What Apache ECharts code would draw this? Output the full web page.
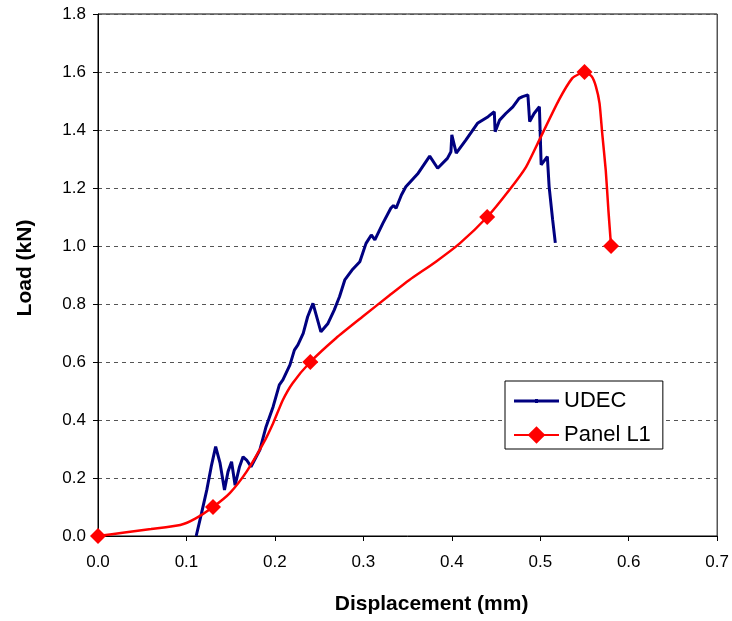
<!DOCTYPE html>
<html>
<head>
<meta charset="utf-8">
<script src="https://cdn.jsdelivr.net/npm/echarts@6/dist/echarts.min.js"></script>
<style>html,body{margin:0;padding:0;background:#fff}#c{width:732px;height:621px}</style>
</head>
<body>
<div id="c"></div>
<script>
// UDEC curve (displacement mm, load kN)
const udecX = [0.111, 0.117, 0.123, 0.128, 0.133, 0.138, 0.143, 0.147, 0.151, 0.155, 0.160, 0.164, 0.168, 0.173, 0.183, 0.190, 0.198, 0.205, 0.209, 0.217, 0.222, 0.226, 0.232, 0.237, 0.243, 0.252, 0.260, 0.267, 0.273, 0.279, 0.288, 0.296, 0.303, 0.309, 0.313, 0.322, 0.331, 0.334, 0.337, 0.343, 0.348, 0.362, 0.375, 0.384, 0.395, 0.399, 0.400, 0.405, 0.416, 0.429, 0.441, 0.448, 0.449, 0.454, 0.461, 0.469, 0.476, 0.480, 0.486, 0.488, 0.493, 0.499, 0.501, 0.508, 0.510, 0.514, 0.517];
const udecY = [0.0, 0.078, 0.159, 0.239, 0.308, 0.251, 0.159, 0.222, 0.256, 0.175, 0.239, 0.273, 0.262, 0.239, 0.297, 0.377, 0.446, 0.521, 0.538, 0.590, 0.641, 0.659, 0.699, 0.756, 0.802, 0.704, 0.733, 0.779, 0.825, 0.883, 0.920, 0.946, 1.009, 1.038, 1.021, 1.078, 1.130, 1.140, 1.130, 1.176, 1.204, 1.251, 1.310, 1.268, 1.302, 1.325, 1.383, 1.320, 1.366, 1.423, 1.446, 1.463, 1.394, 1.434, 1.457, 1.480, 1.509, 1.515, 1.521, 1.429, 1.457, 1.480, 1.280, 1.308, 1.205, 1.090, 1.011];

// Panel L1 smoothed curve as drawn
const panelX = [0, 0.03, 0.06, 0.093, 0.11, 0.13, 0.149, 0.168, 0.187, 0.198, 0.209, 0.22, 0.24, 0.269, 0.299, 0.33, 0.352, 0.382, 0.409, 0.44, 0.465, 0.484, 0.499, 0.521, 0.536, 0.545, 0.55, 0.558, 0.563, 0.567, 0.570, 0.574, 0.577, 0.58];
const panelY = [0, 0.012, 0.024, 0.038, 0.06, 0.1, 0.148, 0.222, 0.32, 0.389, 0.469, 0.527, 0.6, 0.682, 0.756, 0.831, 0.883, 0.946, 1.009, 1.1, 1.193, 1.273, 1.366, 1.503, 1.578, 1.595, 1.6, 1.585, 1.549, 1.492, 1.389, 1.262, 1.124, 1.0];
// Panel L1 measured points (diamond markers)
const markerX = [0, 0.13, 0.24, 0.44, 0.55, 0.58];
const markerY = [0, 0.1, 0.6, 1.1, 1.6, 1.0];

const xTicks = [0, 0.1, 0.2, 0.3, 0.4, 0.5, 0.6, 0.7];
const yTicks = [0, 0.2, 0.4, 0.6, 0.8, 1.0, 1.2, 1.4, 1.6, 1.8];

const udecData = udecX.map((x, i) => [x, udecY[i]]);
const panelData = panelX.map((x, i) => [x, panelY[i]]);
const isMarker = v => markerX.some((mx, i) => Math.abs(mx - v[0]) < 1e-9 && Math.abs(markerY[i] - v[1]) < 1e-9);

const FONT = 'Liberation Sans, Arial, sans-serif';
// legend icon: thin line with a tiny dot (box 45 x 22)
const udecIcon = 'path://M0,0L0.05,0L0,0.05Z M0,9.5L45,9.5L45,12.5L0,12.5Z M21,9L24,9L24,13L21,13Z M45,22L44.95,22L45,21.95Z';

const chart = echarts.init(document.getElementById('c'));
chart.setOption({
  animation: false,
  backgroundColor: '#fff',
  grid: { left: 98, right: 14, top: 14, bottom: 85, show: true, borderColor: '#000', borderWidth: 1, backgroundColor: 'transparent' },
  xAxis: {
    type: 'value', min: xTicks[0], max: xTicks[xTicks.length - 1], interval: 0.1,
    name: 'Displacement (mm)', nameLocation: 'middle', nameGap: 58,
    nameTextStyle: { fontFamily: FONT, fontSize: 21, fontWeight: 'bold', color: '#000', padding: [0, 0, 0, 48] },
    axisLine: { show: true, lineStyle: { color: '#000', width: 1 } },
    axisTick: { show: true, inside: false, length: 5, lineStyle: { color: '#000' } },
    axisLabel: { fontFamily: FONT, fontSize: 17, color: '#000', margin: 18, formatter: v => v.toFixed(1) },
    splitLine: { show: false }
  },
  yAxis: {
    type: 'value', min: yTicks[0], max: yTicks[yTicks.length - 1], interval: 0.2,
    name: 'Load (kN)', nameLocation: 'middle', nameGap: 62, nameRotate: 90,
    nameTextStyle: { fontFamily: FONT, fontSize: 21, fontWeight: 'bold', color: '#000', padding: [0, 0, 0, 14] },
    axisLine: { show: true, lineStyle: { color: '#000', width: 1 } },
    axisTick: { show: true, inside: false, length: 5, lineStyle: { color: '#000' } },
    axisLabel: { fontFamily: FONT, fontSize: 17, color: '#000', margin: 12, formatter: v => v.toFixed(1) },
    splitLine: { show: true, lineStyle: { color: '#555', width: 1, type: [4, 4] } }
  },
  legend: {
    orient: 'vertical', left: 505, top: 381,
    backgroundColor: '#fff', borderColor: '#000', borderWidth: 1, borderRadius: 0,
    padding: [9, 12, 3, 8], itemWidth: 45, itemHeight: 22, itemGap: 12,
    textStyle: { fontFamily: FONT, fontSize: 22, color: '#000' },
    data: [{ name: 'UDEC', icon: udecIcon }, 'Panel L1']
  },
  series: [
    {
      name: 'UDEC', type: 'line', data: udecData,
      symbol: 'none',
      lineStyle: { color: '#000080', width: 3 }, itemStyle: { color: '#000080' },
      z: 3
    },
    {
      name: 'Panel L1', type: 'line', data: panelData, smooth: 0.2,
      symbol: 'diamond', showAllSymbol: true,
      symbolSize: v => isMarker(v) ? 16 : 0,
      lineStyle: { color: '#ff0000', width: 2.5 }, itemStyle: { color: '#ff0000' },
      z: 4
    }
  ]
});
</script>
</body>
</html>
